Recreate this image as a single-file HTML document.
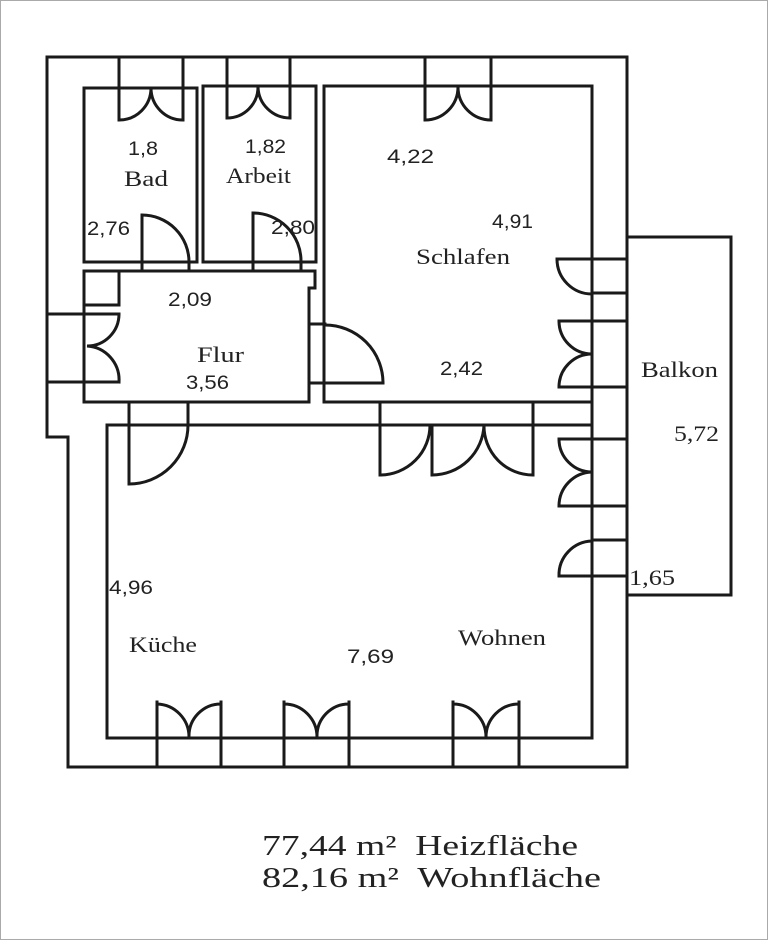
<!DOCTYPE html>
<html><head><meta charset="utf-8"><style>
html,body{margin:0;padding:0;background:#fff}
svg{display:block}
.s{font-family:"Liberation Sans","DejaVu Sans",sans-serif;font-size:19px;fill:#222}
.r{font-family:"Liberation Serif","DejaVu Serif",serif;font-size:22px;fill:#222}
.b{font-family:"Liberation Serif","DejaVu Serif",serif;font-size:29px;fill:#222}
</style></head><body>
<svg width="768" height="940" viewBox="0 0 768 940" xmlns="http://www.w3.org/2000/svg">
<rect x="0.5" y="0.5" width="767" height="939" fill="#fff" stroke="#aaa" stroke-width="1"/>
<g fill="none" stroke="#1a1a1a" stroke-width="3" stroke-linecap="square">
<polyline points="47,57 627,57 627,767 68,767 68,437 47,437 47,57"/>
<rect x="84" y="88" width="113" height="174"/>
<rect x="203" y="86" width="113" height="176"/>
<rect x="324" y="86" width="268" height="316"/>
<line x1="592" y1="86" x2="592" y2="738"/>
<polyline points="84,271 315,271 315,288 309,288 309,402 84,402 84,271"/>
<rect x="84" y="271" width="35" height="34"/>
<rect x="107" y="425" width="485" height="313"/>
<rect x="627" y="237" width="104" height="358"/>

<path d="M119,57V120 M183,57V120 M119,120 A32,32 0 0 0 151,88 A32,32 0 0 0 183,120"/>
<path d="M227,57V118 M290,57V118 M227,118 A31,31 0 0 0 258,87 A32,32 0 0 0 290,118"/>
<path d="M425,57V120 M491,57V120 M425,120 A33,33 0 0 0 458,87 A33,33 0 0 0 491,120"/>

<path d="M142,271V215 A47,47 0 0 1 189,262 V271"/>
<path d="M253,271V213 A48,48 0 0 1 301,261 V271"/>

<path d="M50,314H119 M50,382H119 M119,314 A32,32 0 0 1 87,346 A34,34 0 0 1 119,382"/>

<path d="M309,324H325 M309,383H383 A58,58 0 0 0 325,325"/>

<path d="M129,402V484 M188,402V425 M188,425 A59,59 0 0 1 129,484"/>

<path d="M380,402V475 M533,402V475 M432,425V475 M380,475 A50,50 0 0 0 430,425 M432,475 A52,52 0 0 0 484,425 M484,425 A49,49 0 0 0 533,475"/>

<path d="M557,259H627 M592,293H627 M557,259 A35,35 0 0 0 592,294"/>
<path d="M559,321H627 M559,387H627 M559,321 A33,33 0 0 0 592,354 A33,33 0 0 0 559,387"/>
<path d="M559,439H627 M559,506H627 M559,439 A33,33 0 0 0 592,472 A34,34 0 0 0 559,506"/>
<path d="M592,540H627 M559,576H627 M592,541 A34,34 0 0 0 559,576"/>

<path d="M157,702V767 M221,702V767 M157,704 A33,33 0 0 1 189,737 A32,32 0 0 1 221,704"/>
<path d="M284,702V767 M349,702V767 M284,704 A33,33 0 0 1 317,737 A32,32 0 0 1 349,704"/>
<path d="M453,702V767 M519,702V767 M453,704 A33,33 0 0 1 486,737 A33,33 0 0 1 519,704"/>
</g>

<text class="s" x="128" y="155" textLength="30" lengthAdjust="spacingAndGlyphs">1,8</text>
<text class="r" x="124" y="186" textLength="44" lengthAdjust="spacingAndGlyphs">Bad</text>
<text class="s" x="245" y="153" textLength="41" lengthAdjust="spacingAndGlyphs">1,82</text>
<text class="r" x="226" y="183" textLength="65" lengthAdjust="spacingAndGlyphs">Arbeit</text>
<text class="s" x="87" y="235" textLength="43" lengthAdjust="spacingAndGlyphs">2,76</text>
<text class="s" x="271" y="234" textLength="44" lengthAdjust="spacingAndGlyphs">2,80</text>
<text class="s" x="168" y="306" textLength="44" lengthAdjust="spacingAndGlyphs">2,09</text>
<text class="r" x="197" y="362" textLength="47" lengthAdjust="spacingAndGlyphs">Flur</text>
<text class="s" x="186" y="389" textLength="43" lengthAdjust="spacingAndGlyphs">3,56</text>
<text class="s" x="387" y="163" textLength="47" lengthAdjust="spacingAndGlyphs">4,22</text>
<text class="s" x="492" y="228" textLength="41" lengthAdjust="spacingAndGlyphs">4,91</text>
<text class="r" x="416" y="264" textLength="94" lengthAdjust="spacingAndGlyphs">Schlafen</text>
<text class="s" x="440" y="375" textLength="43" lengthAdjust="spacingAndGlyphs">2,42</text>
<text class="r" x="641" y="377" textLength="77" lengthAdjust="spacingAndGlyphs">Balkon</text>
<text class="r" x="674" y="441" textLength="45" lengthAdjust="spacingAndGlyphs">5,72</text>
<text class="r" x="629" y="585" textLength="46" lengthAdjust="spacingAndGlyphs">1,65</text>
<text class="s" x="109" y="594" textLength="44" lengthAdjust="spacingAndGlyphs">4,96</text>
<text class="r" x="129" y="652" textLength="68" lengthAdjust="spacingAndGlyphs">Küche</text>
<text class="s" x="347" y="663" textLength="47" lengthAdjust="spacingAndGlyphs">7,69</text>
<text class="r" x="458" y="645" textLength="88" lengthAdjust="spacingAndGlyphs">Wohnen</text>

<text class="b" x="262" y="855" textLength="316" lengthAdjust="spacingAndGlyphs" xml:space="preserve">77,44 m²  Heizfläche</text>
<text class="b" x="262" y="887" textLength="339" lengthAdjust="spacingAndGlyphs" xml:space="preserve">82,16 m²  Wohnfläche</text>
</svg>
</body></html>
